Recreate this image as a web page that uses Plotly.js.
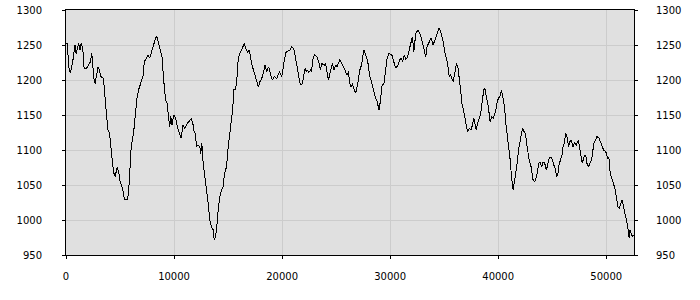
<!DOCTYPE html>
<html>
<head>
<meta charset="utf-8">
<script src="https://cdn.plot.ly/plotly-3.0.1.min.js"></script>
<style>html,body{margin:0;padding:0;background:#fff;}#chart{width:700px;height:300px;}
#chart .scatterlayer path.js-line{shape-rendering:crispEdges;}</style>
</head>
<body>
<div id="chart"></div>
<script>
const xValues = [0,124,248,402,619,712,836,929,1084,1176,1300,1393,1486,1610,1672,1920,2074,2260,2384,2477,2601,2694,2848,2972,3096,3220,3468,3560,3715,3870,4025,4180,4272,4427,4551,4737,4892,4985,5108,5263,5418,5666,5790,5913,6037,6254,6440,6564,6718,6842,6966,7121,7245,7368,7492,7616,7740,7895,8050,8173,8297,8421,8576,8731,8886,9040,9226,9350,9474,9598,9690,9814,9969,10155,10310,10526,10650,10836,10991,11238,11455,11610,11765,11858,11982,12074,12229,12384,12477,12570,12694,12786,12910,13034,13158,13313,13468,13622,13715,13839,13932,14056,14211,14396,14551,14675,14861,15016,15170,15325,15418,15542,15666,15790,15944,16099,16254,16502,16626,16811,16966,17214,17400,17585,17802,17957,18112,18266,18421,18576,18762,18978,19102,19257,19505,19752,19969,20186,20372,20743,20898,21115,21300,21486,21610,
21697,21882,22006,22129,22253,22376,22438,22623,22716,22870,23024,23240,23425,23549,23672,23888,24011,24166,24288,24475,24660,24783,24968,25092,25339,25524,25709,25833,26018,26141,26265,26388,26511,26635,26820,27005,27190,27345,27561,27746,27931,28116,28240,28425,28610,28764,28980,29104,29258,29412,29597,29721,29875,30060,30153,30338,30523,30708,30894,31048,31140,31326,31449,31603,31758,31943,32066,32190,32375,32560,32745,32930,33146,33300,33424,33609,33794,33980,34134,34350,34535,34720,34905,35090,35245,35368,35461,35584,35708,35831,35955,36140,36263,36385,36510,36633,36788,36911,37066,37189,37313,37498,37621,37745,37868,37961,38084,38207,38362,38516,38670,38763,38917,39102,39257,39411,39534,39658,39781,39905,40028,40152,40306,40429,40583,40707,40862,40985,41108,41232,41386,
41508,41631,41754,41877,42000,42123,42246,42400,42523,42677,42862,43046,43231,43385,43508,43631,43754,43877,44031,44154,44308,44462,44585,44708,44862,45016,45139,45262,45415,45539,45631,45785,45908,46000,46123,46246,46369,46523,46646,46769,46923,47077,47231,47415,47538,47662,47785,47938,48092,48215,48369,48523,48646,48769,48892,49015,49138,49323,49477,49631,49754,49908,50031,50123,50246,50338,50462,50585,50708,50831,50954,51077,51200,51354,51477,51600,51723,51846,51938,52031,52123,52185,52308,52431,52523];
const yValues = [1253,1252,1219,1210,1226,1236,1250,1238,1248,1252,1243,1252,1248,1236,1217,1217,1221,1226,1238,1219,1200,1195,1210,1219,1214,1205,1202,1186,1152,1129,1124,1095,1086,1067,1062,1076,1067,1057,1052,1043,1029,1029,1038,1071,1105,1124,1152,1174,1186,1193,1200,1205,1226,1229,1233,1236,1231,1240,1245,1255,1260,1262,1252,1243,1233,1200,1171,1167,1148,1133,1148,1136,1150,1145,1133,1124,1117,1136,1131,1138,1143,1145,1136,1126,1124,1105,1107,1105,1095,1110,1081,1071,1052,1038,1024,1000,990,986,971,976,986,1010,1031,1043,1048,1067,1076,1105,1124,1143,1157,1186,1186,1195,1231,1238,1243,1252,1245,1240,1243,1221,1212,1202,1190,1198,1202,1210,1221,1212,1219,1205,1200,1205,1202,1212,1205,1226,1240,1243,1248,1243,1229,1210,1198,
1193,1195,1205,1217,1212,1214,1210,1214,1212,1231,1236,1233,1224,1214,1224,1221,1224,1212,1200,1212,1224,1214,1221,1219,1229,1224,1217,1214,1207,1212,1195,1190,1195,1188,1181,1195,1214,1221,1243,1236,1226,1205,1200,1188,1176,1171,1157,1171,1193,1193,1214,1231,1238,1236,1236,1226,1217,1221,1229,1231,1226,1236,1229,1233,1243,1252,1262,1240,1267,1271,1267,1257,1243,1233,1248,1255,1260,1250,1257,1267,1274,1267,1255,1238,1229,1217,1205,1207,1202,1198,1207,1224,1219,1205,1188,1167,1157,1148,1133,1126,1131,1129,1136,1145,1136,1129,1138,1145,1150,1169,1186,1188,1176,1160,1140,1148,1145,1152,1157,1169,1174,1176,1186,1176,1162,1138,1119,1105,1086,1062,1043,
1055,1067,1081,1100,1110,1119,1131,1126,1124,1105,1086,1076,1057,1055,1060,1069,1081,1083,1076,1083,1081,1071,1081,1088,1090,1086,1079,1074,1062,1067,1079,1086,1093,1105,1110,1124,1119,1105,1112,1114,1105,1110,1107,1114,1102,1095,1081,1090,1093,1081,1076,1083,1086,1100,1112,1114,1119,1117,1112,1105,1100,1098,1095,1088,1090,1071,1062,1057,1050,1043,1033,1019,1017,1024,1029,1019,1010,1005,995,986,974,986,981,976,979];
const xTickVals = [0,10000,20000,30000,40000,50000];
const yTickVals = [950,1000,1050,1100,1150,1200,1250,1300];

const font = {family: 'DejaVu Sans, Verdana, sans-serif', size: 10, color: '#000'};
const trace = {x: xValues, y: yValues, type: 'scatter', mode: 'lines',
  line: {color: '#000', width: 1}, hoverinfo: 'skip', showlegend: false};
const trace2 = Object.assign({}, trace, {yaxis: 'y2', opacity: 0});

const layout = {
  width: 700, height: 300,
  margin: {l: 66, r: 66, t: 10, b: 45, pad: 0},
  paper_bgcolor: '#fff', plot_bgcolor: '#e0e0e0',
  font: font, showlegend: false,
  xaxis: {range: [0, 52570], tickvals: xTickVals, ticktext: xTickVals.map(String),
    showgrid: true, gridcolor: '#cccccc', gridwidth: 1, zeroline: false,
    showline: true, linecolor: '#000', linewidth: 1, mirror: true,
    ticks: 'outside', ticklen: 3, tickcolor: '#000', ticklabelstandoff: 9, tickfont: font},
  yaxis: {range: [950, 1300], tickvals: yTickVals, ticktext: yTickVals.map(String),
    showgrid: true, gridcolor: '#cccccc', gridwidth: 1, zeroline: false,
    showline: true, linecolor: '#000', linewidth: 1, mirror: true,
    ticks: 'outside', ticklen: 3, tickcolor: '#000', ticklabelstandoff: 18, tickfont: font},
  yaxis2: {range: [950, 1300], overlaying: 'y', side: 'right', tickvals: yTickVals, ticktext: yTickVals.map(String),
    showgrid: false, zeroline: false, showline: false,
    ticks: 'outside', ticklen: 3, tickcolor: '#000', ticklabelstandoff: 16, tickfont: font}
};
Plotly.newPlot('chart', [trace, trace2], layout, {staticPlot: true, displayModeBar: false});
</script>
</body>
</html>
